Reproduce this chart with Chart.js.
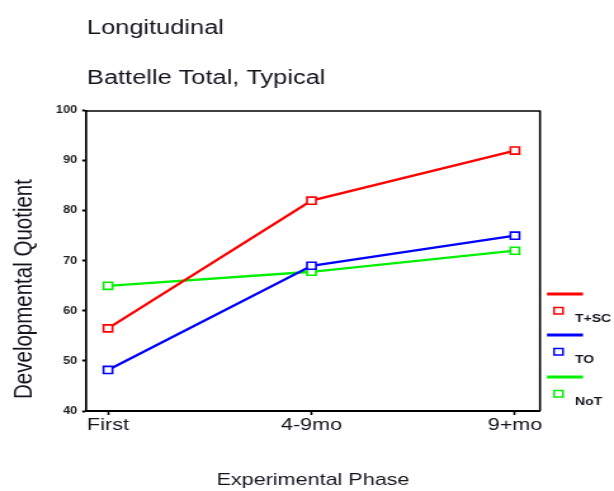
<!DOCTYPE html>
<html><head><meta charset="utf-8">
<script src="https://cdn.jsdelivr.net/npm/chart.js@4/dist/chart.umd.min.js"></script>
<style>html,body{margin:0;padding:0;background:#fff;overflow:hidden}
#c{display:block;width:614px;height:491px}</style>
</head><body>
<canvas id="c" width="484" height="491" style="width:614px;height:491px"></canvas>
<script>
const categories = ["First", "4-9mo", "9+mo"];
const seriesNames = ["T+SC", "TO", "NoT"];
const tscValues = [56.5, 82, 92];
const toValues = [48.2, 69, 75];
const notValues = [65, 67.8, 72];
const yTicks = [40, 50, 60, 70, 80, 90, 100];
const titles = ["Longitudinal", "Battelle Total, Typical"];
const yTitle = "Developmental Quotient";
const xTitle = "Experimental Phase";
const colors = ["#ff0000", "#0000ff", "#00f000"];

// the picture is horizontally stretched: draw on a narrower canvas, shown at 614px wide
const SX = 614 / 484;
const X = (px) => px / SX;
const FONT = "'Liberation Sans', Arial, sans-serif";
const TXT = '#14141e';

const allSeries = [tscValues, toValues, notValues];
const datasets = allSeries.map((vals, i) => ({
  label: seriesNames[i],
  data: vals.map((v, j) => ({x: j, y: v})),
  borderColor: colors[i],
  backgroundColor: colors[i],
  borderWidth: 2.3,
  pointStyle: 'rect',
  pointRadius: 5,
  pointBorderWidth: 1.6,
  pointBackgroundColor: '#fff',
  pointBorderColor: colors[i],
  tension: 0
}));

const decor = {
  id: 'decor',
  afterDraw(chart) {
    const ctx = chart.ctx, a = chart.chartArea;
    ctx.save();
    ctx.strokeStyle = '#000';
    ctx.lineWidth = 1.6;
    ctx.beginPath();
    ctx.moveTo(a.left, a.top + 0.5); ctx.lineTo(a.right, a.top + 0.5);
    ctx.stroke();
    ctx.beginPath();
    ctx.moveTo(a.right, a.top); ctx.lineTo(a.right, a.bottom);
    ctx.stroke();
    ctx.fillStyle = TXT;
    ctx.font = "20px " + FONT;
    ctx.textBaseline = 'alphabetic';
    ctx.textAlign = 'left';
    ctx.fillText(titles[0], X(87), 34);
    ctx.fillText(titles[1], X(87), 84);
    // y-axis title
    ctx.save();
    ctx.translate(X(25), 289);
    ctx.rotate(-Math.PI / 2);
    ctx.textAlign = 'center';
    ctx.textBaseline = 'middle';
    ctx.font = "20.5px " + FONT;
    ctx.fillText(yTitle, 0, 0);
    ctx.restore();
    // legend
    const baseY = [294, 335, 377];
    datasets.forEach((d, i) => {
      const y = baseY[i];
      ctx.strokeStyle = d.borderColor; ctx.lineWidth = 3;
      ctx.beginPath(); ctx.moveTo(X(547), y); ctx.lineTo(X(583), y); ctx.stroke();
      ctx.lineWidth = 1.5;
      ctx.strokeRect(X(554), y + 13.5, X(563) - X(554), 6.5);
      ctx.fillStyle = TXT;
      ctx.font = "bold 11px " + FONT;
      ctx.fillText(d.label, X(575), y + 28);
    });
    ctx.restore();
  }
};

new Chart(document.getElementById('c'), {
  type: 'line',
  data: {datasets},
  plugins: [decor],
  options: {
    responsive: false,
    animation: false,
    devicePixelRatio: 1,
    layout: {padding: {top: 110.5, right: X(614 - 540), left: 0, bottom: 0}},
    plugins: {legend: {display: false}, tooltip: {enabled: false}},
    scales: {
      x: {
        type: 'linear',
        min: -0.108, max: 2.123,
        afterFit(s) { s.height = 80; },
        afterBuildTicks(s) { s.ticks = categories.map((c, i) => ({value: i})); },
        ticks: {
          callback: (v) => categories[v],
          color: TXT, font: {family: FONT, size: 17}, padding: 0, maxRotation: 0
        },
        grid: {drawOnChartArea: false, color: '#000', tickLength: 4, tickWidth: 1.6},
        border: {color: '#000', width: 2},
        title: {display: true, text: xTitle, color: TXT,
          font: {family: FONT, size: 17}, padding: {top: 0, bottom: 0}}
      },
      y: {
        min: 40, max: 100,
        afterFit(s) { s.width = X(86); },
        afterBuildTicks(s) { s.ticks = yTicks.map(v => ({value: v})); },
        ticks: {color: '#222', font: {family: FONT, size: 10, weight: 'bold'}, padding: 4},
        grid: {drawOnChartArea: false, color: '#000', tickLength: 3, tickWidth: 2},
        border: {color: '#000', width: 1.7},
        title: {display: false}
      }
    }
  }
});
</script></body></html>
